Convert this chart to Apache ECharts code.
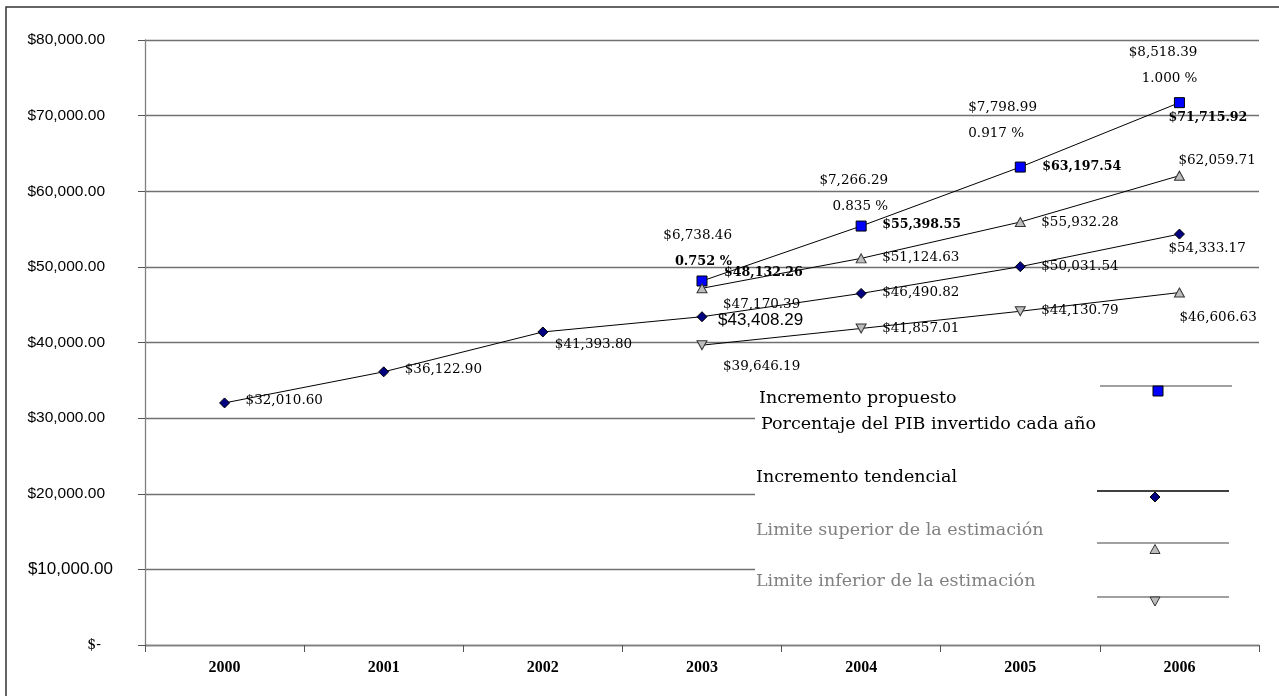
<!DOCTYPE html>
<html>
<head>
<meta charset="utf-8">
<title>Inversión proyectada</title>
<script src="https://cdn.jsdelivr.net/npm/echarts@6/dist/echarts.min.js"></script>
<style>
  html, body { margin: 0; padding: 0; background: #fff; }
  #chart { width: 1279px; height: 696px; }
</style>
</head>
<body>
<div id="chart"></div>
<script>
// ---- Data ----
const years = ['2000', '2001', '2002', '2003', '2004', '2005', '2006'];
const incrementoPropuesto = [null, null, null, 48132.26, 55398.55, 63197.54, 71715.92];
const incrementoTendencial = [32010.60, 36122.90, 41393.80, 43408.29, 46490.82, 50031.54, 54333.17];
const limiteSuperior = [null, null, null, 47170.39, 51124.63, 55932.28, 62059.71];
const limiteInferior = [null, null, null, 39646.19, 41857.01, 44130.79, 46606.63];
const pibMonto = [null, null, null, 6738.46, 7266.29, 7798.99, 8518.39];
const pibPorcentaje = [null, null, null, 0.752, 0.835, 0.917, 1.000];

const legendNames = [
  'Incremento propuesto',
  'Porcentaje del PIB invertido cada año',
  'Incremento tendencial',
  'Limite superior de la estimación',
  'Limite inferior de la estimación'
];

// ---- Label placement (pixel offsets from each marker centre) ----
const offPropuesto = [null, null, null, [22, -8], [21, -1], [22, 0], [-11, 15]];
const offTendencial = [[21, -2], [21, -2], [12, 13], [16, 4], [21, -1], [21, 0], [-11, 14]];
const offSuperior = [null, null, null, [21, 16], [21, -1], [21, 0], [-1, -15]];
const offInferior = [null, null, null, [21, 21], [21, 0], [21, -1], [0, 25]];
const offPib = [null, null, null, [30, -32], [27, -33], [-52, -47], [18, -37]];
const alignPib = [null, null, null, 'right', 'right', 'left', 'right'];

const SERIF = '"DejaVu Serif", "Liberation Serif", serif';
const SANS = '"Liberation Sans", Arial, sans-serif';

function money(v) {
  const fixed = Math.abs(v).toFixed(2);
  const [ent, dec] = fixed.split('.');
  const withCommas = ent.replace(/\B(?=(\d{3})+(?!\d))/g, ',');
  return '$' + withCommas + '.' + dec;
}

function withLabels(values, offsets, extra) {
  return values.map((v, i) => {
    if (v == null) return null;
    const item = { value: v, label: { offset: offsets[i] } };
    if (extra && extra[i]) Object.assign(item, extra[i]);
    return item;
  });
}

const baseLabel = {
  show: true,
  position: 'inside',
  align: 'left',
  verticalAlign: 'middle',
  color: '#000',
  fontFamily: SERIF,
  fontSize: 13.5,
  formatter: p => money(p.value)
};

const chart = echarts.init(document.getElementById('chart'), null, { renderer: 'canvas' });

// tendencial 2003 label uses a larger sans face
const tendExtra = [];
tendExtra[3] = { label: { offset: offTendencial[3], fontFamily: SANS, fontSize: 17 } };

// 2006 lower-bound marker is drawn pointing up
const infExtra = [];
infExtra[6] = { symbolRotate: 0 };

const pibData = incrementoPropuesto.map((v, i) => {
  if (v == null) return null;
  return { value: v, label: { offset: offPib[i], align: alignPib[i] } };
});

// legend panel pieces (drawn over the plot so the grid lines stop at its edge)
const LZ = 100;
const legendPanel = [
  { type: 'rect', z: LZ, shape: { x: 755, y: 379, width: 508, height: 232 }, style: { fill: '#fff' } },
  { type: 'text', z: LZ + 1, x: 759, y: 398, style: { text: legendNames[0], fill: '#000', fontFamily: SERIF, fontSize: 17.5, verticalAlign: 'middle' } },
  { type: 'text', z: LZ + 1, x: 761, y: 424, style: { text: legendNames[1], fill: '#000', fontFamily: SERIF, fontSize: 17.5, verticalAlign: 'middle' } },
  { type: 'text', z: LZ + 1, x: 756, y: 477, style: { text: legendNames[2], fill: '#000', fontFamily: SERIF, fontSize: 17.5, verticalAlign: 'middle' } },
  { type: 'text', z: LZ + 1, x: 756, y: 530, style: { text: legendNames[3], fill: '#808080', fontFamily: SERIF, fontSize: 17.5, verticalAlign: 'middle' } },
  { type: 'text', z: LZ + 1, x: 756, y: 581, style: { text: legendNames[4], fill: '#808080', fontFamily: SERIF, fontSize: 17.5, verticalAlign: 'middle' } },

  { type: 'line', z: LZ + 1, shape: { x1: 1100, y1: 386, x2: 1232, y2: 386 }, style: { stroke: '#808080', lineWidth: 1.3 } },
  { type: 'rect', z: LZ + 2, shape: { x: 1153, y: 386, width: 10, height: 10 }, style: { fill: '#0000FF', stroke: '#000', lineWidth: 1 } },

  { type: 'line', z: LZ + 1, shape: { x1: 1097, y1: 491, x2: 1229, y2: 491 }, style: { stroke: '#000', lineWidth: 1.3 } },
  { type: 'polygon', z: LZ + 2, shape: { points: [[1155, 492], [1160, 497], [1155, 502], [1150, 497]] }, style: { fill: '#000080', stroke: '#000', lineWidth: 1 } },

  { type: 'line', z: LZ + 1, shape: { x1: 1097, y1: 543, x2: 1229, y2: 543 }, style: { stroke: '#808080', lineWidth: 1.3 } },
  { type: 'polygon', z: LZ + 2, shape: { points: [[1155, 544.5], [1160, 553.5], [1150, 553.5]] }, style: { fill: '#BDBDBD', stroke: '#333', lineWidth: 1 } },

  { type: 'line', z: LZ + 1, shape: { x1: 1097, y1: 597, x2: 1229, y2: 597 }, style: { stroke: '#808080', lineWidth: 1.3 } },
  { type: 'polygon', z: LZ + 2, shape: { points: [[1150, 597], [1160, 597], [1155, 606]] }, style: { fill: '#BDBDBD', stroke: '#333', lineWidth: 1 } }
];

const option = {
  animation: false,
  backgroundColor: '#fff',
  grid: { left: 145, right: 20, top: 40, bottom: 51, containLabel: false },
  xAxis: {
    type: 'category',
    data: years,
    boundaryGap: true,
    axisLine: { lineStyle: { color: '#808080', width: 1.3 } },
    axisTick: { show: true, length: 7, lineStyle: { color: '#555', width: 1 } },
    axisLabel: {
      margin: 15,
      color: '#000',
      fontFamily: '"Liberation Serif", serif',
      fontWeight: 'bold',
      fontSize: 16
    },
    splitLine: { show: false }
  },
  yAxis: {
    type: 'value',
    min: 0,
    max: 80000,
    interval: 10000,
    axisLine: { show: true, lineStyle: { color: '#808080', width: 1.3 } },
    axisTick: { show: true, length: 7, lineStyle: { color: '#555', width: 1 } },
    axisLabel: {
      margin: 40,
      color: '#000',
      fontFamily: SANS,
      fontSize: 15.5,
      formatter: v => {
        if (v === 0) return '{z|$-}';
        if (v === 10000) return '{s|' + money(v) + '}';
        return money(v);
      },
      rich: {
        z: { fontFamily: SERIF, fontSize: 14, color: '#000', padding: [0, 4, 0, 0] },
        s: { fontFamily: SANS, fontSize: 17, color: '#000', padding: [0, -8, 0, 0] }
      }
    },
    splitLine: { show: true, lineStyle: { color: '#707070', width: 1.4 } }
  },
  series: [
    {
      name: legendNames[0],
      type: 'line',
      data: withLabels(incrementoPropuesto, offPropuesto),
      symbol: 'rect',
      symbolSize: 10,
      lineStyle: { color: '#000', width: 1 },
      itemStyle: { color: '#0000FF', borderColor: '#000', borderWidth: 1 },
      label: Object.assign({}, baseLabel, { fontWeight: 'bold', fontSize: 12.6 }),
      z: 5
    },
    {
      name: legendNames[1],
      type: 'line',
      data: pibData,
      symbol: 'circle',
      symbolSize: 1,
      itemStyle: { color: 'rgba(0,0,0,0)', borderWidth: 0 },
      lineStyle: { width: 0, opacity: 0 },
      label: Object.assign({}, baseLabel, {
        formatter: p => {
          const i = p.dataIndex;
          const pct = pibPorcentaje[i].toFixed(3) + ' %';
          return '{m|' + money(pibMonto[i]) + '}\n' + (i === 3 ? '{b|' + pct + '}' : '{m|' + pct + '}');
        },
        rich: {
          m: { fontFamily: SERIF, fontSize: 13.5, color: '#000', lineHeight: 26 },
          b: { fontFamily: SERIF, fontSize: 12.9, fontWeight: 'bold', color: '#000', lineHeight: 26 }
        }
      }),
      z: 6
    },
    {
      name: legendNames[2],
      type: 'line',
      data: withLabels(incrementoTendencial, offTendencial, tendExtra),
      symbol: 'diamond',
      symbolSize: 10,
      lineStyle: { color: '#000', width: 1 },
      itemStyle: { color: '#000080', borderColor: '#000', borderWidth: 1 },
      label: baseLabel,
      z: 5
    },
    {
      name: legendNames[3],
      type: 'line',
      data: withLabels(limiteSuperior, offSuperior),
      symbol: 'triangle',
      symbolSize: [10, 9],
      lineStyle: { color: '#000', width: 1 },
      itemStyle: { color: '#BDBDBD', borderColor: '#333', borderWidth: 1 },
      label: baseLabel,
      z: 5
    },
    {
      name: legendNames[4],
      type: 'line',
      data: withLabels(limiteInferior, offInferior, infExtra),
      symbol: 'triangle',
      symbolRotate: 180,
      symbolSize: [10, 9],
      lineStyle: { color: '#000', width: 1 },
      itemStyle: { color: '#BDBDBD', borderColor: '#333', borderWidth: 1 },
      label: baseLabel,
      z: 5
    }
  ],
  graphic: [
    // outer frame
    {
      type: 'rect', silent: true, z: 50,
      shape: { x: 6, y: 7, width: 1300, height: 720 },
      style: { fill: 'none', stroke: '#333', lineWidth: 1.5 }
    }
  ].concat(legendPanel.map(el => Object.assign({ silent: true }, el)))
};

chart.setOption(option);
</script>
</body>
</html>
